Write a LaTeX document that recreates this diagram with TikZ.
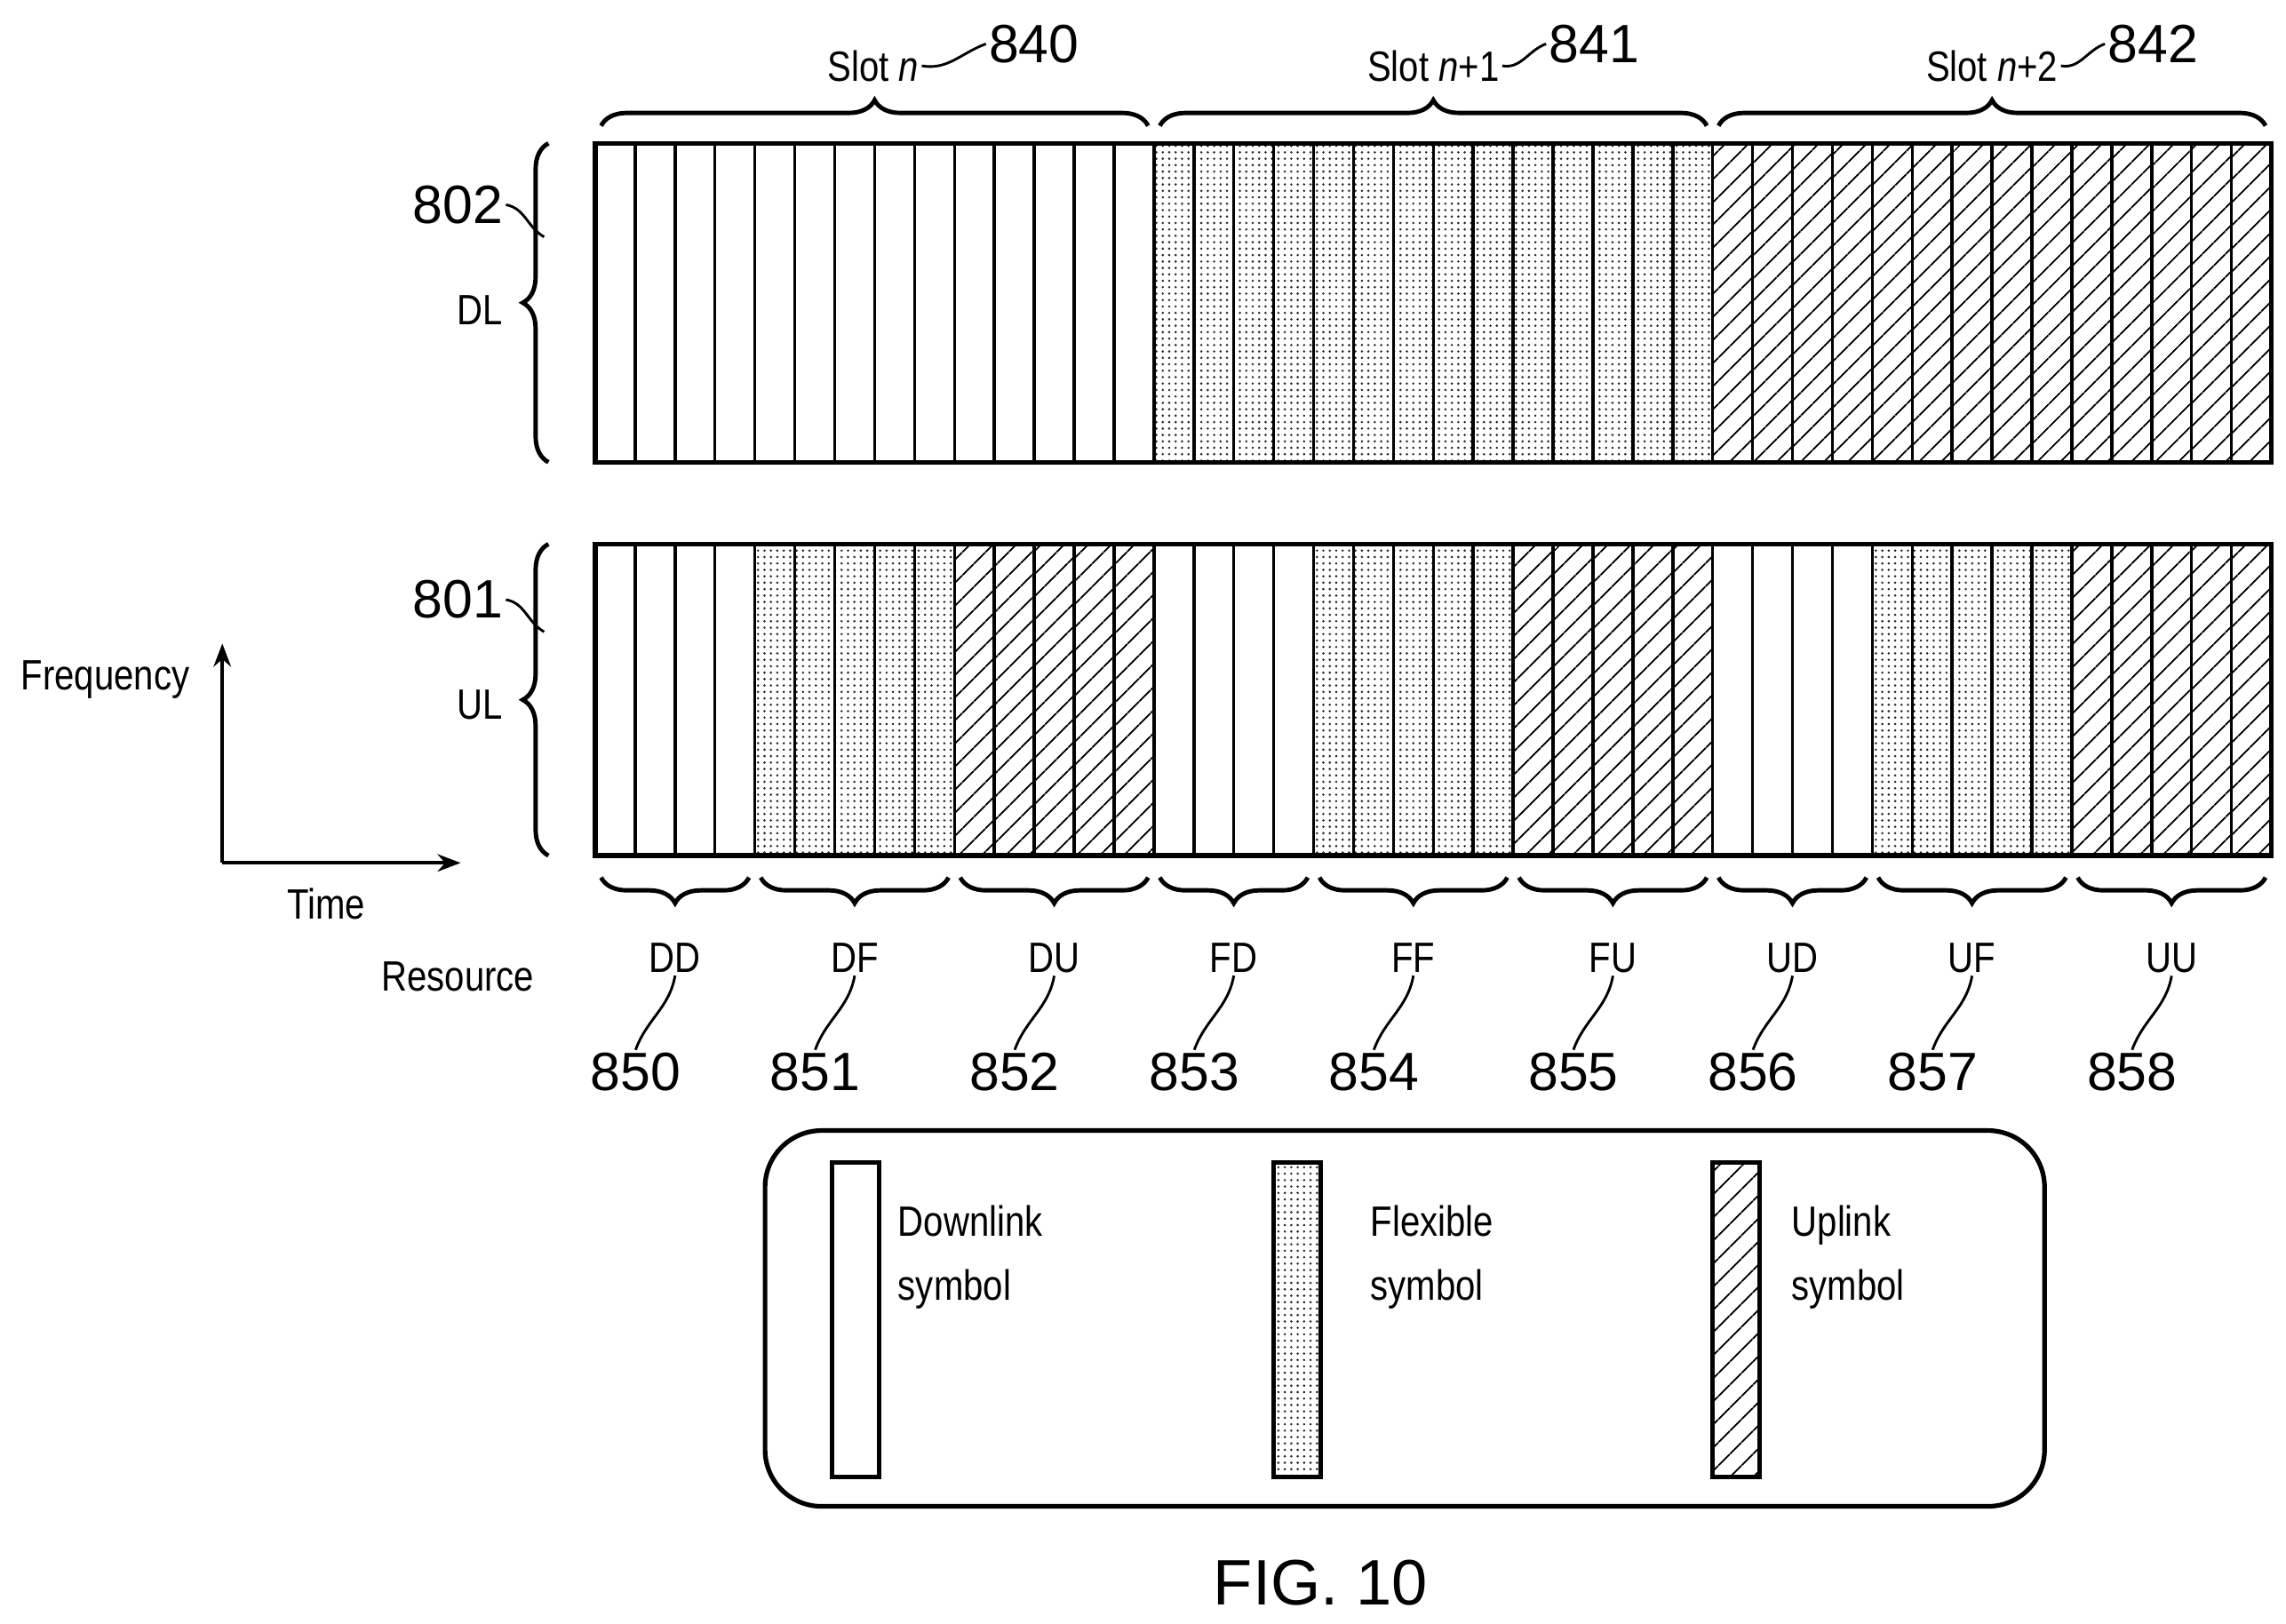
\documentclass[tikz,border=0pt]{standalone}
\usepackage{fontspec}
\setmainfont{Liberation Sans}
\newfontfamily\narrowfont{Liberation Sans}[FakeStretch=0.84]
\usetikzlibrary{decorations.pathreplacing,patterns.meta,arrows.meta}

\tikzset{
  lbl/.style={font=\narrowfont\fontsize{16.5}{19}\selectfont, inner sep=1pt},
  refnum/.style={font=\fontsize{21}{24}\selectfont, inner sep=1pt},
  sym0/.style={draw, line width=1.2pt, fill=white},
  sym1/.style={draw, line width=1.2pt, pattern={Dots[radius=0.5pt,distance=2.5pt]}, pattern color=black!85},
  sym2/.style={draw, line width=1.2pt, pattern={Lines[angle=45,distance=6.5pt,line width=0.7pt]}},
  band/.style={draw, line width=1.8pt},
  brc/.style={decorate, decoration={brace, amplitude=10pt}, line width=1.7pt},
  squig/.style={line width=1pt}
}

\begin{document}
\begin{tikzpicture}[x=0.02cm, y=-0.02cm]
  \useasboundingbox (0,0) rectangle (1563,1110);
  \def\w{27.2857}
  % DL band
  \foreach \i in {0,...,41} {
    \pgfmathtruncatemacro\t{int(\i/14)}
    \path[sym\t] ({407+\w*\i},98) rectangle ({407+\w*(\i+1)},316);
  }
  \draw[band] (407,98) rectangle (1553,316);
  % UL band
  \foreach \i in {0,...,41} {
    \pgfmathtruncatemacro\j{mod(\i,14)}
    \pgfmathtruncatemacro\t{\j<4 ? 0 : (\j<9 ? 1 : 2)}
    \path[sym\t] ({407+\w*\i},372) rectangle ({407+\w*(\i+1)},585);
  }
  \draw[band] (407,372) rectangle (1553,585);

  % slot braces
  \foreach \s/\txt/\num/\tx in {0/Slot \textit{n}/840/597, 1/Slot \textit{n}+1/841/980, 2/Slot \textit{n}+2/842/1362} {
    \draw[brc] ({407+\w*14*\s+4},86) -- ({407+\w*14*(\s+1)-4},86);
    \node[lbl] (slot\s) at (\tx,45) {\txt};
    \node[refnum] (n\num) at ({\tx+110},30) {\num};
    \draw[squig] (slot\s.east) to[out=-10,in=200] (n\num.west);
  }

  % band braces
  \draw[brc] (375,316) -- (375,98);
  \node[lbl] (dl) at (328,212) {DL};
  \node[refnum] (n802) at (313,140) {802};
  \coordinate (b802) at (372,162);
  \draw[squig] (n802.east) to[out=-10,in=150] (b802);
  \draw[brc] (375,585) -- (375,372);
  \node[lbl] (ul) at (328,482) {UL};
  \node[refnum] (n801) at (313,410) {801};
  \coordinate (b801) at (372,432);
  \draw[squig] (n801.east) to[out=-10,in=150] (b801);

  % axes
  \coordinate (origin) at (152,590);
  \coordinate (fup) at (152,440);
  \coordinate (tright) at (315,590);
  \draw[line width=1.5pt, -{Stealth[length=9pt]}] (origin) -- (fup);
  \draw[line width=1.5pt, -{Stealth[length=9pt]}] (origin) -- (tright);
  \node[lbl] (freq) at (72,465) {Frequency};
  \node[lbl] (time) at (223,618) {Time};
  \node[lbl] (res) at (313,668) {Resource};

  % resource groups
  \foreach \txt/\s/\e/\num in {DD/0/4/850, DF/4/9/851, DU/9/14/852, FD/14/18/853, FF/18/23/854, FU/23/28/855, UD/28/32/856, UF/32/37/857, UU/37/42/858} {
    \draw[brc] ({407+\w*\e-4},600) -- ({407+\w*\s+4},600);
    \node[lbl] (g\num) at ({407+\w*(\s+\e)/2},655) {\txt};
    \node[refnum] (n\num) at ({407+\w*(\s+\e)/2-27},733) {\num};
    \draw[squig] (g\num.south) to[out=-100,in=70] (n\num.north);
  }

  % legend
  \node[draw, line width=1.8pt, rounded corners=22pt, minimum width=17.5cm, minimum height=5.14cm] (legend) at (960.5,901.5) {};
  \path[sym0, line width=1.7pt] (569,795) rectangle (601,1010);
  \path[sym1, line width=1.7pt] (871,795) rectangle (903,1010);
  \path[sym2, line width=1.7pt] (1171,795) rectangle (1203,1010);
  \node[lbl, anchor=north west, align=left] (leg0) at (612,822) {Downlink\\[6pt]symbol};
  \node[lbl, anchor=north west, align=left] (leg1) at (935,822) {Flexible\\[6pt]symbol};
  \node[lbl, anchor=north west, align=left] (leg2) at (1223,822) {Uplink\\[6pt]symbol};

  \node[font=\fontsize{25}{28}\selectfont] (fig) at (903,1082) {FIG. 10};
\end{tikzpicture}
\end{document}
